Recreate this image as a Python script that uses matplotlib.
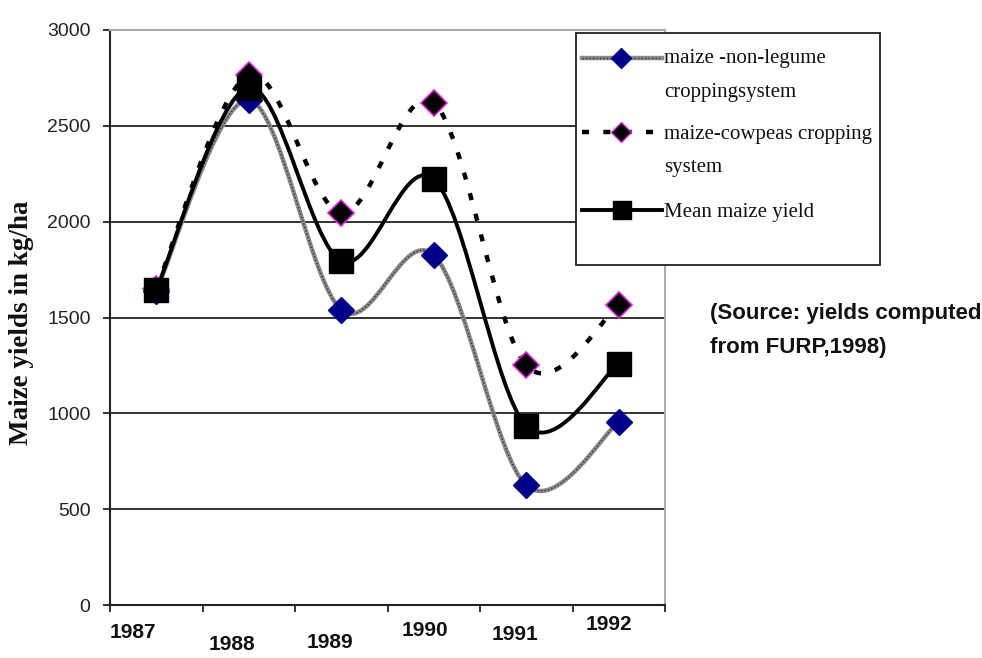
"""Maize yields 1987-1992 by cropping system (FURP data)."""

import matplotlib
matplotlib.use("Agg")
import matplotlib.pyplot as plt
from matplotlib.lines import Line2D
from matplotlib.path import Path
from matplotlib.patches import PathPatch, Rectangle
from matplotlib.transforms import blended_transform_factory

years = ["1987", "1988", "1989", "1990", "1991", "1992"]
non_legume = [1640, 2635, 1540, 1825, 625, 955]
cowpeas = [1650, 2765, 2045, 2620, 1250, 1565]
mean_yield = [1645, 2700, 1795, 2222, 935, 1260]

yticks = [0, 500, 1000, 1500, 2000, 2500, 3000]
legend_labels = [["maize -non-legume", "croppingsystem"],
                 ["maize-cowpeas cropping", "system"],
                 ["Mean maize yield"]]
# label placement quirks of the original (x in category units, y in px below axis)
label_dx = [-0.25, -0.18, -0.12, -0.09, -0.12, -0.11]
label_dy = [27, 40, 37, 25, 30, 20]

W, H = 982, 658
SERIF = ["Liberation Serif", "DejaVu Serif"]
SANS = ["Liberation Sans", "DejaVu Sans"]


def fx(px):
    return px / W


def fy(py):
    return 1 - py / H


def smooth_path(xs, ys):
    """Catmull-Rom style bezier through the points (like Excel smoothed lines)."""
    pts = list(zip(xs, ys))
    n = len(pts)
    verts = [pts[0]]
    codes = [Path.MOVETO]
    for i in range(n - 1):
        p0 = pts[i - 1] if i > 0 else pts[i]
        p1 = pts[i]
        p2 = pts[i + 1]
        p3 = pts[i + 2] if i + 2 < n else pts[i + 1]
        c1 = (p1[0] + (p2[0] - p0[0]) / 6, p1[1] + (p2[1] - p0[1]) / 6)
        c2 = (p2[0] - (p3[0] - p1[0]) / 6, p2[1] - (p3[1] - p1[1]) / 6)
        verts += [c1, c2, p2]
        codes += [Path.CURVE4] * 3
    return Path(verts, codes)


def curve(ax, ys, **kw):
    xs = [i + 0.5 for i in range(len(ys))]
    ax.add_patch(PathPatch(smooth_path(xs, ys), fill=False, **kw))


STYLE_NL = dict(color="#8a8a8a", lw=3.2)
STYLE_NL_DOT = dict(color="#333333", lw=1.0, linestyle=(0, (1, 1.5)))
STYLE_CP = dict(color="black", lw=3.2, linestyle=(0, (1.6, 3.2)))
STYLE_MEAN = dict(color="black", lw=2.8)

fig = plt.figure(figsize=(W / 100, H / 100), dpi=100)
ax = fig.add_axes([fx(110), fy(605), fx(665) - fx(110), fy(30) - fy(605)])
ax.set_xlim(0, 6)
ax.set_ylim(0, 3000)

for y in yticks[1:-1]:
    ax.axhline(y, color="#222222", lw=1.3, zorder=1)

x = [i + 0.5 for i in range(len(years))]


def style(d):
    d = dict(d)
    d["edgecolor"] = d.pop("color")
    return d


curve(ax, non_legume, zorder=2, **style(STYLE_NL))
curve(ax, non_legume, zorder=2, **style(STYLE_NL_DOT))
curve(ax, cowpeas, zorder=3, **style(STYLE_CP))
curve(ax, mean_yield, zorder=4, **style(STYLE_MEAN))

ax.plot(x, non_legume, ls="none", marker="D", ms=13, color="#00008b",
        mec="#00008b", zorder=5)
ax.plot(x, cowpeas, ls="none", marker="D", ms=13, color="black",
        mec="#e020e0", mew=1.2, zorder=5)
ax.plot(x, mean_yield, ls="none", marker="s", ms=17, color="black", zorder=6)

for s in ["top", "right"]:
    ax.spines[s].set_color("#aaaaaa")
    ax.spines[s].set_linewidth(1.5)
for s in ["left", "bottom"]:
    ax.spines[s].set_color("#222222")
    ax.spines[s].set_linewidth(1.5)

ax.set_yticks(yticks)
ax.set_yticklabels([str(v) for v in yticks], fontsize=14, family=SANS,
                   color="#222222")
ax.set_xticks(range(7))
ax.set_xticklabels([])
ax.tick_params(axis="both", direction="out", length=5, width=1.3, color="#222222")
ax.tick_params(axis="y", pad=9)

trans = blended_transform_factory(ax.transData, ax.transAxes)
for i, lab in enumerate(years):
    ax.annotate(lab, xy=(i + 0.5 + label_dx[i], 0), xycoords=trans,
                xytext=(0, -label_dy[i] * 0.72), textcoords="offset points",
                ha="center", va="center", fontsize=15, fontweight="bold",
                family=SANS, color="#111111")

fig.text(fx(22), fy(323), "Maize yields in kg/ha", rotation=90, ha="center",
         va="center", fontsize=19.5, fontweight="bold", family=SERIF,
         color="#111111")

# legend box drawn by hand to match the original spacing
fig.patches.append(Rectangle((fx(576), fy(265)), fx(880) - fx(576), fy(33) - fy(265),
                             transform=fig.transFigure, facecolor="white",
                             edgecolor="#222222", lw=1.3, zorder=10))
hy = [58, 132, 210]
ty = [[58, 92], [135, 168], [213]]
handle_x = [fx(582), fx(662)]
fig.add_artist(Line2D(handle_x, [fy(hy[0])] * 2, transform=fig.transFigure,
                      zorder=11, **STYLE_NL))
fig.add_artist(Line2D(handle_x, [fy(hy[0])] * 2, transform=fig.transFigure,
                      zorder=11, **STYLE_NL_DOT))
fig.add_artist(Line2D([fx(621)], [fy(hy[0])], transform=fig.transFigure,
                      marker="D", ms=10, color="#00008b", zorder=12))
fig.add_artist(Line2D(handle_x, [fy(hy[1])] * 2, transform=fig.transFigure,
                      zorder=11, **STYLE_CP))
fig.add_artist(Line2D([fx(621)], [fy(hy[1])], transform=fig.transFigure,
                      marker="D", ms=10, color="black", mec="#e020e0",
                      zorder=12))
fig.add_artist(Line2D(handle_x, [fy(hy[2])] * 2, transform=fig.transFigure,
                      zorder=11, **STYLE_MEAN))
fig.add_artist(Line2D([fx(622)], [fy(hy[2])], transform=fig.transFigure,
                      marker="s", ms=13, color="black", zorder=12))
for lines, ys in zip(legend_labels, ty):
    for line, yy in zip(lines, ys):
        fig.text(fx(664), fy(yy), line, ha="left", va="center", fontsize=15,
                 family=SERIF, color="#111111", zorder=12)

fig.text(fx(710), fy(313), "(Source: yields computed", ha="left",
         va="center", fontsize=16, fontweight="bold", family=SANS,
         color="#111111")
fig.text(fx(710), fy(348), "from FURP,1998)", ha="left",
         va="center", fontsize=16, fontweight="bold", family=SANS,
         color="#111111")

fig.savefig("out.png", dpi=100)
